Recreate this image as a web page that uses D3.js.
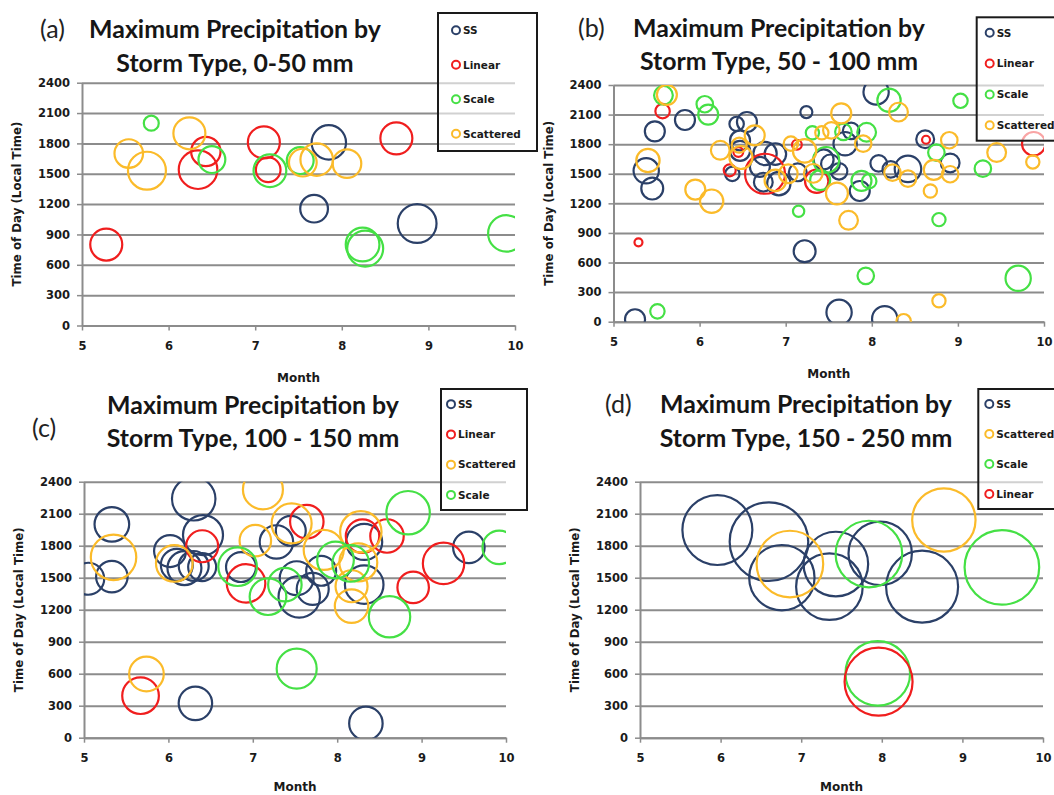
<!DOCTYPE html>
<html>
<head>
<meta charset="utf-8">
<script src="https://cdn.jsdelivr.net/npm/d3@7"></script>
<style>
  body { margin: 0; background: #fff; }
  svg { display: block; }
</style>
</head>
<body>
<svg id="fig" width="1054" height="795"></svg>
<script>
// Axis ticks
const monthTicks = [5, 6, 7, 8, 9, 10];
const hourTicks = [0, 300, 600, 900, 1200, 1500, 1800, 2100, 2400];
const seriesNames = ["SS", "Linear", "Scale", "Scattered"];

// Each record: [month, time of day (local, hhmm), bubble size]
// (a) 0-50 mm
const a_SS = [[7.85,1810,74],[7.68,1155,48],[8.87,1008,94]];
const a_Linear = [[6.43,1720,54],[6.34,1540,93],[7.10,1810,64],[7.15,1540,38],[8.63,1850,64],[5.28,800,64]];
const a_Scale = [[5.80,2000,14],[6.50,1640,45],[7.17,1530,67],[7.52,1630,45],[8.24,800,71],[8.27,760,81],[9.90,910,83]];
const a_Scattered = [[5.54,1700,51],[5.75,1530,90],[6.24,1900,64],[7.55,1610,48],[7.71,1640,66],[8.06,1600,51]];

// (b) 50-100 mm
const b_SS = [[5.25,25,25],[5.38,1530,40],[5.45,1350,30],[5.48,1930,25],[5.83,2045,25],[6.43,2005,13],[6.55,2025,25],[6.47,1838,25],[6.47,1733,25],[6.38,1498,13],[6.70,1570,25],[6.76,1705,34],[6.88,1700,29],[6.74,1415,22],[6.92,1400,34],[7.14,1515,20],[7.22,715,30],[7.24,2125,9],[7.44,1645,25],[7.52,1600,22],[7.62,1525,17],[7.69,1805,34],[7.76,1935,17],[7.86,1325,25],[7.62,95,40],[8.05,2330,40],[8.08,1605,17],[8.22,1545,17],[8.42,1550,44],[8.62,1850,20],[8.91,1610,22],[8.15,30,40]];
const b_Linear = [[5.29,805,4],[5.57,2135,13],[6.35,1535,9],[6.45,1720,6],[6.76,1500,100],[7.13,1795,6],[7.36,1425,34],[8.63,1845,4],[9.88,1805,34]];
const b_Scale = [[5.51,105,13],[5.58,2295,22],[6.06,2205,17],[6.10,2100,25],[7.15,1120,8],[7.31,1915,11],[7.47,1640,42],[7.40,1435,25],[7.67,1925,17],[7.94,1920,22],[7.88,1428,25],[7.97,1425,13],[7.93,465,17],[8.20,2245,34],[8.75,1715,17],[8.78,1035,11],[9.03,2240,13],[9.29,1552,17],[9.70,440,40]];
const b_Scattered = [[5.40,1635,34],[5.62,2300,25],[5.95,1340,25],[6.14,1222,34],[6.24,1738,22],[6.46,1790,14],[6.48,1665,33],[6.64,1890,25],[6.88,1432,29],[7.03,1500,22],[7.06,1805,13],[7.22,1732,34],[7.32,1504,22],[7.42,1915,11],[7.53,1940,17],[7.595,1300,30],[7.645,2112,25],[7.73,1028,22],[7.90,1805,17],[8.24,1512,17],[8.31,2125,22],[8.37,5,13],[8.42,1450,17],[8.68,1325,11],[8.72,1540,25],[8.78,212,11],[8.90,1840,17],[8.91,1495,17],[9.45,1715,22],[9.87,1620,11]];

// (c) 100-150 mm
const c_SS = [[5.05,1490,64],[5.33,2000,75],[5.33,1510,62],[6.02,1750,64],[6.10,1620,64],[6.19,1590,72],[6.30,1610,56],[6.40,1600,49],[6.41,1900,100],[6.30,2240,118],[6.32,322,70],[6.86,1600,56],[7.28,1835,70],[7.45,1940,56],[7.52,1495,72],[7.55,1320,107],[7.71,1395,64],[7.81,1565,56],[8.32,1835,81],[8.32,1435,93],[8.34,134,70],[9.56,1784,62]];
const c_Linear = [[5.67,394,84],[6.40,1795,64],[6.92,1447,93],[7.64,2025,70],[8.30,1890,70],[8.59,1891,70],[8.90,1409,62],[9.26,1634,107]];
const c_Scattered = [[5.35,1691,129],[5.74,597,75],[6.07,1634,84],[7.03,1847,62],[7.12,2328,100],[7.46,2009,100],[7.84,1760,100],[8.17,1420,64],[8.17,1234,70],[8.25,1643,90],[8.28,1931,107]];
const c_Scale = [[6.82,1603,93],[7.18,1322,84],[7.38,1435,70],[7.52,647,100],[7.98,1666,84],[8.16,1634,84],[8.62,1134,107],[8.84,2109,118],[9.92,1784,70]];

// (d) 150-250 mm
const d_SS = [[5.96,1947,306],[6.60,1838,386],[6.76,1500,267],[7.43,1628,261],[7.35,1416,277],[7.98,1728,251],[8.50,1416,324]];
const d_Scattered = [[6.86,1628,277],[8.77,2041,251]];
const d_Scale = [[7.84,1722,277],[9.49,1597,348],[7.95,603,261]];
const d_Linear = [[7.96,525,289]];

const colors = { SS: "#2b4068", Linear: "#f01e1e", Scale: "#45e045", Scattered: "#fbbb2a" };
const titleLine1 = "Maximum Precipitation by";

const panels = [
  { tag: "(a)", sub: "Storm Type, 0-50 mm",
    series: { SS: a_SS, Linear: a_Linear, Scale: a_Scale, Scattered: a_Scattered },
    order: ["SS", "Linear", "Scale", "Scattered"],
    box: [82, 515, 82.7, 325.5],
    title: { cx: 235, b1: 38, b2: 72, tagX: 40, tagB: 38 },
    legend: { x: 438, y: 13, w: 99, h: 138, mk: 18 } },
  { tag: "(b)", sub: "Storm Type, 50 - 100 mm",
    series: { SS: b_SS, Linear: b_Linear, Scale: b_Scale, Scattered: b_Scattered },
    order: ["SS", "Linear", "Scale", "Scattered"],
    box: [613.5, 1044, 85, 321.7],
    title: { cx: 779, b1: 37, b2: 70, tagX: 578, tagB: 37 },
    legend: { x: 976.7, y: 17.3, w: 100, h: 123.4, mk: 13 } },
  { tag: "(c)", sub: "Storm Type, 100 - 150 mm",
    series: { SS: c_SS, Linear: c_Linear, Scattered: c_Scattered, Scale: c_Scale },
    order: ["SS", "Linear", "Scattered", "Scale"],
    box: [84, 506, 481.7, 737.7],
    title: { cx: 253, b1: 414, b2: 447, tagX: 32, tagB: 437 },
    legend: { x: 441, y: 389, w: 86, h: 121, mk: 10 } },
  { tag: "(d)", sub: "Storm Type, 150 - 250 mm",
    series: { SS: d_SS, Scattered: d_Scattered, Scale: d_Scale, Linear: d_Linear },
    order: ["SS", "Scattered", "Scale", "Linear"],
    box: [640, 1043, 481.7, 737.7],
    title: { cx: 806, b1: 413, b2: 447, tagX: 605, tagB: 413 },
    legend: { x: 978.3, y: 389, w: 100, h: 120, mk: 11 } }
];

const svg = d3.select("#fig");
const rScale = d3.scaleSqrt().domain([0, 100]).range([0, 20]);
const axisFont = "'DejaVu Sans', sans-serif";
const gridColor = "#8c8c8c";

// Title size: fit the first title line to its drawn width
const probe = svg.append("text").attr("font-family", "Lato, sans-serif").attr("font-weight", 700)
  .attr("font-size", 24).text(titleLine1);
const titleSize = 24 * 292 / probe.node().getComputedTextLength();
probe.remove();

panels.forEach((p, i) => {
  const [x0, x1, y0, y1] = p.box;
  const x = d3.scaleLinear().domain([5, 10]).range([x0, x1]);
  const y = d3.scaleLinear().domain([0, 2400]).range([y1, y0]);
  const g = svg.append("g");

  // horizontal gridlines
  g.append("g")
    .attr("transform", `translate(${x0},0)`)
    .call(d3.axisLeft(y).tickValues(hourTicks).tickSize(-(x1 - x0)).tickFormat(""))
    .call(s => s.select(".domain").remove())
    .selectAll("line").attr("stroke", gridColor).attr("stroke-width", 2);

  // y axis
  const ya = g.append("g")
    .attr("transform", `translate(${x0},0)`)
    .call(d3.axisLeft(y).tickValues(hourTicks).tickFormat(d3.format("d"))
      .tickSize(5).tickSizeOuter(0).tickPadding(7));
  ya.select(".domain").attr("stroke", gridColor).attr("stroke-width", 2);
  ya.selectAll(".tick line").attr("stroke", gridColor).attr("stroke-width", 1.5);
  ya.selectAll("text").attr("font-family", axisFont).attr("font-weight", 700)
    .attr("font-size", 11.5).attr("fill", "#1a1a1a");

  // x axis
  const xa = g.append("g")
    .attr("transform", `translate(0,${y1})`)
    .call(d3.axisBottom(x).tickValues(monthTicks).tickFormat(d3.format("d"))
      .tickSize(5).tickSizeOuter(0).tickPadding(11));
  xa.select(".domain").attr("stroke", gridColor).attr("stroke-width", 2);
  xa.selectAll(".tick line").attr("stroke", gridColor).attr("stroke-width", 1.5);
  xa.selectAll("text").attr("font-family", axisFont).attr("font-weight", 700)
    .attr("font-size", 11.5).attr("fill", "#1a1a1a");

  // axis titles
  g.append("text")
    .attr("x", (x0 + x1) / 2).attr("y", Math.min(y1 + 56, 791))
    .attr("text-anchor", "middle")
    .attr("font-family", axisFont).attr("font-weight", 700).attr("font-size", 12)
    .attr("fill", "#1a1a1a").text("Month");
  g.append("text")
    .attr("transform", `translate(${x0 - 61},${(y0 + y1) / 2}) rotate(-90)`)
    .attr("text-anchor", "middle")
    .attr("font-family", axisFont).attr("font-weight", 700).attr("font-size", 11.8)
    .attr("fill", "#1a1a1a").text("Time of Day (Local Time)");

  // bubbles, clipped to the plot area
  const clipId = "plotclip" + i;
  svg.append("clipPath").attr("id", clipId)
    .append("rect").attr("x", x0).attr("y", y0).attr("width", x1 - x0).attr("height", y1 - y0);
  const bubbles = g.append("g").attr("clip-path", `url(#${clipId})`);
  p.order.forEach(name => {
    bubbles.append("g").selectAll("circle")
      .data(p.series[name])
      .join("circle")
      .attr("cx", d => x(d[0]))
      .attr("cy", d => y(d[1]))
      .attr("r", d => rScale(d[2]))
      .attr("fill", "none")
      .attr("stroke", colors[name])
      .attr("stroke-width", 2.2);
  });

  // titles
  const t = p.title;
  g.append("text").attr("x", t.tagX).attr("y", t.tagB)
    .attr("font-family", "Lato, sans-serif").attr("font-size", 25)
    .attr("fill", "#222").text(p.tag);
  [titleLine1, p.sub].forEach((line, k) => {
    g.append("text")
      .attr("x", t.cx).attr("y", k === 0 ? t.b1 : t.b2)
      .attr("text-anchor", "middle")
      .attr("font-family", "Lato, sans-serif").attr("font-weight", 700)
      .attr("font-size", titleSize).attr("fill", "#161616").text(line);
  });

  // legend
  const L = p.legend;
  const lg = g.append("g");
  lg.append("rect").attr("x", L.x).attr("y", L.y).attr("width", L.w).attr("height", L.h)
    .attr("fill", "#fff").attr("fill-opacity", 0.6)
    .attr("stroke", "#1a1a1a").attr("stroke-width", 2);
  p.order.forEach((name, k) => {
    const cy = L.y + (k + 0.5) * L.h / 4;
    lg.append("circle").attr("cx", L.x + L.mk).attr("cy", cy).attr("r", 4)
      .attr("fill", "none").attr("stroke", colors[name]).attr("stroke-width", 2);
    lg.append("text").attr("x", L.x + L.mk + 7).attr("y", cy).attr("dy", "0.36em")
      .attr("font-family", axisFont).attr("font-weight", 700).attr("font-size", 10.5)
      .attr("fill", "#1a1a1a").text(name);
  });
});
</script>
</body>
</html>
